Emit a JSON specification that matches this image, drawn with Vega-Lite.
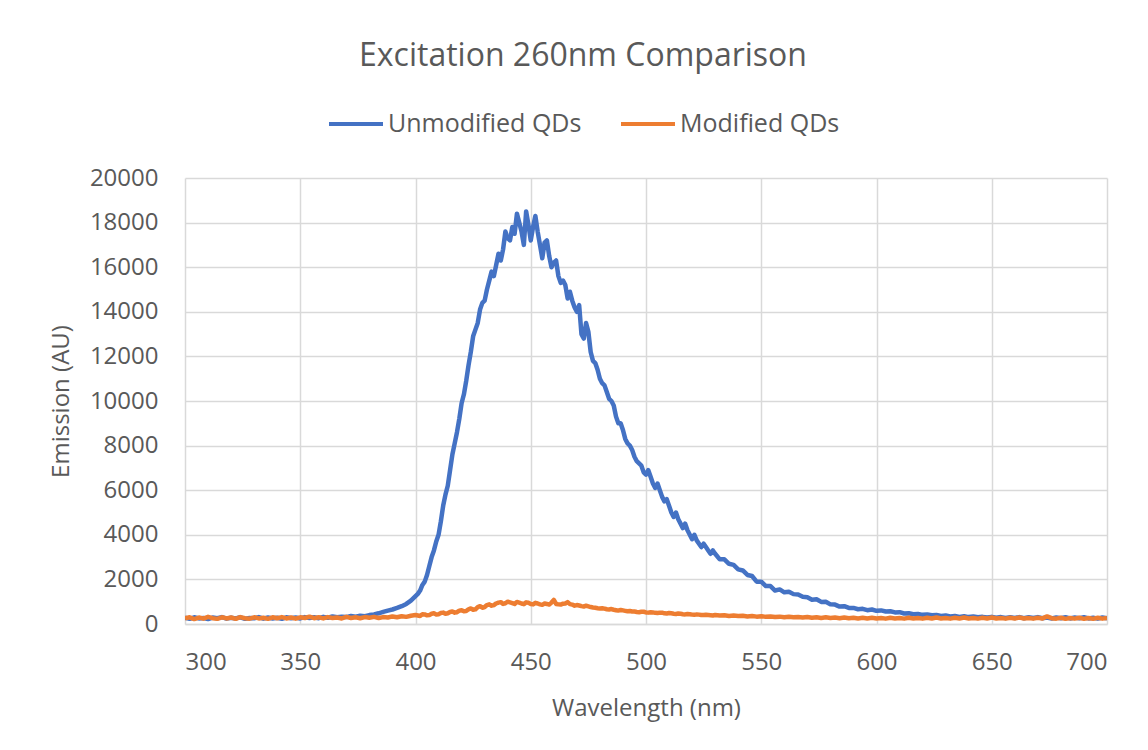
{
  "$schema": "https://vega.github.io/schema/vega-lite/v6.json",
  "width": 922,
  "height": 446,
  "autosize": {"type": "none"},
  "padding": {"left": 185, "top": 178, "right": 41, "bottom": 126},
  "background": "white",
  "title": {
    "text": "Excitation 260nm Comparison",
    "font": "Open Sans",
    "fontSize": 32,
    "fontWeight": "normal",
    "color": "#595959",
    "anchor": "middle",
    "dx": -63,
    "offset": 22
  },
  "data": {
    "values": [
      {"x":300,"u":280,"m":250},{"x":302,"u":230,"m":300},{"x":304,"u":300,"m":220},{"x":306,"u":250,"m":290},{"x":308,"u":270,"m":240},
      {"x":310,"u":220,"m":320},{"x":312,"u":290,"m":260},{"x":314,"u":260,"m":230},{"x":316,"u":310,"m":300},{"x":318,"u":240,"m":250},
      {"x":320,"u":280,"m":290},{"x":322,"u":250,"m":230},{"x":324,"u":300,"m":310},{"x":326,"u":230,"m":260},{"x":328,"u":270,"m":240},
      {"x":330,"u":260,"m":300},{"x":332,"u":310,"m":250},{"x":334,"u":240,"m":280},{"x":336,"u":290,"m":230},{"x":338,"u":250,"m":300},
      {"x":340,"u":280,"m":260},{"x":342,"u":230,"m":310},{"x":344,"u":300,"m":250},{"x":346,"u":260,"m":290},{"x":348,"u":290,"m":240},
      {"x":350,"u":250,"m":300},{"x":352,"u":310,"m":270},{"x":354,"u":270,"m":330},{"x":356,"u":300,"m":260},{"x":358,"u":260,"m":300},
      {"x":360,"u":320,"m":250},{"x":362,"u":280,"m":310},{"x":364,"u":340,"m":270},{"x":366,"u":300,"m":290},{"x":368,"u":330,"m":250},
      {"x":370,"u":310,"m":320},{"x":372,"u":360,"m":270},{"x":374,"u":330,"m":300},{"x":376,"u":370,"m":260},{"x":378,"u":350,"m":310},
      {"x":380,"u":400,"m":280},{"x":382,"u":430,"m":320},{"x":384,"u":480,"m":270},{"x":386,"u":540,"m":310},{"x":388,"u":600,"m":290},
      {"x":390,"u":650,"m":340},{"x":392,"u":720,"m":300},{"x":394,"u":800,"m":350},{"x":396,"u":900,"m":320},{"x":398,"u":1050,"m":370},
      {"x":400,"u":1250,"m":400},{"x":402,"u":1500,"m":360},{"x":404,"u":1900,"m":430},{"x":406,"u":2600,"m":400},{"x":408,"u":3300,"m":480},
      {"x":410,"u":4000,"m":440},{"x":412,"u":5300,"m":510},{"x":414,"u":6200,"m":480},{"x":416,"u":7600,"m":560},{"x":418,"u":8600,"m":530},
      {"x":420,"u":9900,"m":620},{"x":422,"u":10900,"m":580},{"x":424,"u":12200,"m":700},{"x":426,"u":13200,"m":660},{"x":428,"u":14100,"m":800},
      {"x":430,"u":14500,"m":760},{"x":432,"u":15400,"m":880},{"x":434,"u":15600,"m":850},{"x":436,"u":16600,"m":960},{"x":438,"u":16800,"m":900},
      {"x":440,"u":17300,"m":1000},{"x":442,"u":17800,"m":940},{"x":444,"u":18400,"m":990},{"x":446,"u":17600,"m":920},{"x":448,"u":18500,"m":970},
      {"x":450,"u":17200,"m":900},{"x":452,"u":18300,"m":950},{"x":454,"u":17000,"m":880},{"x":456,"u":17100,"m":920},{"x":458,"u":16500,"m":870},
      {"x":460,"u":16200,"m":1080},{"x":462,"u":15600,"m":880},{"x":464,"u":15400,"m":910},{"x":466,"u":14600,"m":980},{"x":468,"u":14500,"m":870},
      {"x":470,"u":14000,"m":850},{"x":472,"u":13000,"m":800},{"x":474,"u":13500,"m":820},{"x":476,"u":12200,"m":760},{"x":478,"u":11700,"m":730},
      {"x":480,"u":11000,"m":700},{"x":482,"u":10700,"m":690},{"x":484,"u":10100,"m":650},{"x":486,"u":9800,"m":640},{"x":488,"u":9000,"m":600},
      {"x":490,"u":8700,"m":610},{"x":492,"u":8100,"m":570},{"x":494,"u":7800,"m":560},{"x":496,"u":7300,"m":540},{"x":498,"u":7100,"m":550},
      {"x":500,"u":6700,"m":520},{"x":502,"u":6600,"m":530},{"x":504,"u":6100,"m":500},{"x":506,"u":6000,"m":510},{"x":508,"u":5500,"m":480},
      {"x":510,"u":5300,"m":490},{"x":512,"u":4800,"m":460},{"x":514,"u":4700,"m":470},{"x":516,"u":4300,"m":440},{"x":518,"u":4200,"m":450},
      {"x":520,"u":3800,"m":420},{"x":522,"u":3750,"m":430},{"x":524,"u":3450,"m":400},{"x":526,"u":3450,"m":410},{"x":528,"u":3150,"m":390},
      {"x":530,"u":3150,"m":400},{"x":532,"u":2900,"m":380},{"x":534,"u":2900,"m":390},{"x":536,"u":2700,"m":360},{"x":538,"u":2650,"m":380},
      {"x":540,"u":2450,"m":360},{"x":542,"u":2400,"m":370},{"x":544,"u":2200,"m":340},{"x":546,"u":2150,"m":360},{"x":548,"u":1900,"m":330},
      {"x":550,"u":1900,"m":350},{"x":552,"u":1700,"m":320},{"x":554,"u":1700,"m":340},{"x":556,"u":1500,"m":310},{"x":558,"u":1550,"m":330},
      {"x":560,"u":1420,"m":300},{"x":562,"u":1450,"m":320},{"x":564,"u":1340,"m":300},{"x":566,"u":1320,"m":310},{"x":568,"u":1220,"m":290},
      {"x":570,"u":1200,"m":310},{"x":572,"u":1090,"m":280},{"x":574,"u":1110,"m":300},{"x":576,"u":990,"m":270},{"x":578,"u":1000,"m":300},
      {"x":580,"u":880,"m":270},{"x":582,"u":870,"m":290},{"x":584,"u":780,"m":260},{"x":586,"u":800,"m":290},{"x":588,"u":720,"m":260},
      {"x":590,"u":720,"m":280},{"x":592,"u":660,"m":250},{"x":594,"u":680,"m":280},{"x":596,"u":620,"m":250},{"x":598,"u":650,"m":280},
      {"x":600,"u":590,"m":250},{"x":602,"u":610,"m":270},{"x":604,"u":560,"m":240},{"x":606,"u":570,"m":280},{"x":608,"u":520,"m":250},
      {"x":610,"u":530,"m":270},{"x":612,"u":470,"m":240},{"x":614,"u":480,"m":280},{"x":616,"u":440,"m":250},{"x":618,"u":450,"m":270},
      {"x":620,"u":410,"m":240},{"x":622,"u":430,"m":280},{"x":624,"u":390,"m":250},{"x":626,"u":400,"m":290},{"x":628,"u":360,"m":250},
      {"x":630,"u":380,"m":270},{"x":632,"u":340,"m":240},{"x":634,"u":360,"m":280},{"x":636,"u":320,"m":250},{"x":638,"u":350,"m":290},
      {"x":640,"u":310,"m":250},{"x":642,"u":340,"m":270},{"x":644,"u":300,"m":240},{"x":646,"u":320,"m":280},{"x":648,"u":290,"m":250},
      {"x":650,"u":320,"m":290},{"x":652,"u":280,"m":250},{"x":654,"u":310,"m":270},{"x":656,"u":270,"m":240},{"x":658,"u":300,"m":280},
      {"x":660,"u":270,"m":250},{"x":662,"u":310,"m":290},{"x":664,"u":260,"m":250},{"x":666,"u":300,"m":270},{"x":668,"u":270,"m":240},
      {"x":670,"u":310,"m":280},{"x":672,"u":260,"m":250},{"x":674,"u":290,"m":340},{"x":676,"u":250,"m":260},{"x":678,"u":290,"m":240},
      {"x":680,"u":260,"m":280},{"x":682,"u":300,"m":230},{"x":684,"u":250,"m":270},{"x":686,"u":290,"m":240},{"x":688,"u":260,"m":280},
      {"x":690,"u":300,"m":230},{"x":692,"u":250,"m":270},{"x":694,"u":280,"m":230},{"x":696,"u":240,"m":280},{"x":698,"u":290,"m":240},
      {"x":700,"u":260,"m":270},
      {"x":401,"u":1350,"m":380},{"x":403,"u":1750,"m":440},{"x":405,"u":2200,"m":390},{"x":407,"u":3000,"m":460},{"x":409,"u":3700,"m":430},
      {"x":411,"u":4600,"m":490},{"x":413,"u":5800,"m":460},{"x":415,"u":6900,"m":540},{"x":417,"u":8100,"m":510},{"x":419,"u":9200,"m":600},
      {"x":421,"u":10300,"m":570},{"x":423,"u":11600,"m":660},{"x":425,"u":12900,"m":640},{"x":427,"u":13500,"m":760},{"x":429,"u":14400,"m":730},
      {"x":431,"u":15000,"m":850},{"x":433,"u":15800,"m":820},{"x":435,"u":16100,"m":920},{"x":437,"u":16300,"m":980},{"x":439,"u":17600,"m":930},
      {"x":441,"u":17200,"m":970},{"x":443,"u":17500,"m":900},{"x":445,"u":18000,"m":960},{"x":447,"u":17000,"m":890},{"x":449,"u":17900,"m":950},
      {"x":451,"u":17800,"m":880},{"x":453,"u":17600,"m":920},{"x":455,"u":16400,"m":860},{"x":457,"u":17200,"m":900},{"x":459,"u":16000,"m":960},
      {"x":461,"u":16300,"m":900},{"x":463,"u":15300,"m":870},{"x":465,"u":15200,"m":920},{"x":467,"u":14900,"m":890},{"x":469,"u":14200,"m":820},
      {"x":471,"u":14300,"m":830},{"x":473,"u":12800,"m":780},{"x":475,"u":13100,"m":790},{"x":477,"u":11800,"m":740},{"x":479,"u":11400,"m":710},
      {"x":481,"u":10800,"m":710},{"x":483,"u":10400,"m":660},{"x":485,"u":10000,"m":670},{"x":487,"u":9300,"m":620},{"x":489,"u":9000,"m":630},
      {"x":491,"u":8300,"m":590},{"x":493,"u":8000,"m":580},{"x":495,"u":7500,"m":560},{"x":497,"u":7200,"m":530},{"x":499,"u":6800,"m":550},
      {"x":501,"u":6900,"m":510},{"x":503,"u":6300,"m":520},{"x":505,"u":6300,"m":490},{"x":507,"u":5700,"m":510},{"x":509,"u":5600,"m":470},
      {"x":511,"u":5000,"m":480},{"x":513,"u":5000,"m":450},{"x":515,"u":4500,"m":460},{"x":517,"u":4500,"m":430},{"x":519,"u":4000,"m":440},
      {"x":521,"u":4000,"m":410},{"x":523,"u":3600,"m":420},{"x":525,"u":3600,"m":400},{"x":527,"u":3300,"m":400},{"x":529,"u":3300,"m":380}
    ]
  },
  "transform": [
    {"fold": ["u", "m"], "as": ["key", "y"]}
  ],
  "mark": {"type": "line", "strokeWidth": 4.5, "strokeJoin": "round", "clip": true},
  "encoding": {
    "x": {
      "field": "x",
      "type": "quantitative",
      "scale": {"domain": [300, 700], "nice": false, "zero": false},
      "axis": {
        "title": "Wavelength (nm)",
        "values": [300, 350, 400, 450, 500, 550, 600, 650, 700],
        "labelPadding": 26,
        "titlePadding": 22,
        "domain": true,
        "domainColor": "#D9D9D9",
        "domainWidth": 1.5
      }
    },
    "y": {
      "field": "y",
      "type": "quantitative",
      "scale": {"domain": [0, 20000], "nice": false},
      "axis": {
        "title": "Emission (AU)",
        "format": "d",
        "values": [0, 2000, 4000, 6000, 8000, 10000, 12000, 14000, 16000, 18000, 20000],
        "labelPadding": 27,
        "titlePadding": 16,
        "domain": false
      }
    },
    "color": {
      "field": "key",
      "type": "nominal",
      "scale": {"domain": ["u", "m"], "range": ["#4472C4", "#ED7D31"]},
      "legend": {
        "title": null,
        "orient": "none",
        "direction": "horizontal",
        "legendX": 142,
        "legendY": -83,
        "labelExpr": "datum.value == 'u' ? 'Unmodified QDs' : 'Modified QDs'",
        "labelLimit": 400,
        "symbolType": "stroke",
        "symbolSize": 2916,
        "symbolStrokeWidth": 4,
        "labelFontSize": 25,
        "labelFont": "Open Sans",
        "labelColor": "#595959",
        "labelOffset": 3,
        "columnPadding": 31
      }
    }
  },
  "config": {
    "view": {"stroke": null},
    "axis": {
      "labelFont": "Open Sans",
      "titleFont": "Open Sans",
      "labelFontSize": 24,
      "titleFontSize": 24,
      "titleFontWeight": "normal",
      "labelColor": "#595959",
      "titleColor": "#595959",
      "gridColor": "#D9D9D9",
      "gridWidth": 1.5,
      "ticks": false
    }
  }
}
